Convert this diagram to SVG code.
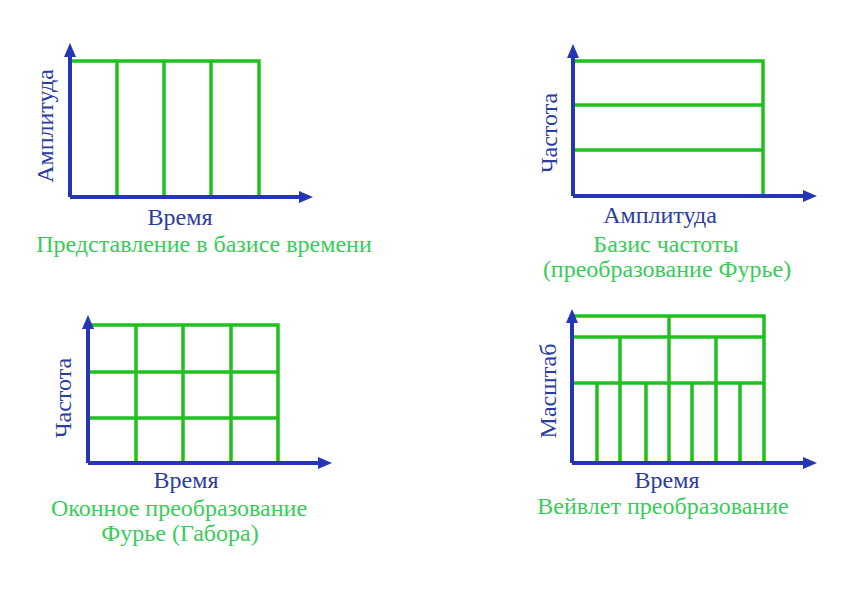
<svg xmlns="http://www.w3.org/2000/svg" width="856" height="601" viewBox="0 0 856 601">
<style>
.axis{stroke:#2436b4;stroke-width:4;fill:none;marker-end:url(#arr)}
.grid{stroke:#20c020;stroke-width:3.5;fill:none;stroke-linecap:square}
.lb{font-family:"Liberation Serif","Times New Roman",serif;font-size:24px;fill:#2b3c9f;text-anchor:middle}
.tt{font-family:"Liberation Serif","Times New Roman",serif;font-size:24px;fill:#38cc58;text-anchor:middle}
</style>
<defs>
<marker id="arr" markerUnits="userSpaceOnUse" viewBox="0 0 14 12" refX="0" refY="6" markerWidth="14" markerHeight="12" orient="auto">
<path d="M0,0 L14,6 L0,12 Z" fill="#2436b4"/>
</marker>
</defs>
<rect width="856" height="601" fill="#ffffff"/>

<g id="panel-time">
<path class="grid" d="M70,61 H259 V197 M117,61 V197 M164,61 V197 M211,61 V197"/>
<text class="lb" x="180" y="225">Время</text>
<text class="lb" transform="translate(53,126) rotate(-90)">Амплитуда</text>
<text class="tt" x="204" y="252">Представление в базисе времени</text>
</g>

<g id="panel-fourier">
<path class="grid" d="M573,61 H763 V196 M573,105 H763 M573,150 H763"/>
<text class="lb" x="660" y="223">Амплитуда</text>
<text class="lb" transform="translate(557,133) rotate(-90)">Частота</text>
<text class="tt" x="666" y="252">Базис частоты</text>
<text class="tt" x="667" y="277">(преобразование Фурье)</text>
</g>

<g id="panel-gabor">
<path class="grid" d="M88,325 H278 V463 M88,372 H278 M88,418 H278 M136,325 V463 M183,325 V463 M231,325 V463"/>
<text class="lb" x="186" y="488">Время</text>
<text class="lb" transform="translate(71,398) rotate(-90)">Частота</text>
<text class="tt" x="179" y="516">Оконное преобразование</text>
<text class="tt" x="180" y="541">Фурье (Габора)</text>
</g>

<g id="panel-wavelet">
<path class="grid" d="M572,316 H764 V463 M572,337 H764 M572,383 H764 M669,316 V463 M620,337 V460 M716,337 V463 M597,383 V463 M646,383 V463 M692,383 V463 M740,383 V463"/>
<text class="lb" x="667" y="488">Время</text>
<text class="lb" transform="translate(556,391) rotate(-90)">Масштаб</text>
<text class="tt" x="663" y="514">Вейвлет преобразование</text>
</g>

<g id="axes">
<path class="axis" d="M70,197 V57"/>
<path class="axis" d="M70,197 H299"/>
<path class="axis" d="M573,196 V58"/>
<path class="axis" d="M573,196 H803"/>
<path class="axis" d="M88,463 V329"/>
<path class="axis" d="M88,463 H318"/>
<path class="axis" d="M572,463 V323"/>
<path class="axis" d="M572,463 H803"/>
</g>
</svg>
